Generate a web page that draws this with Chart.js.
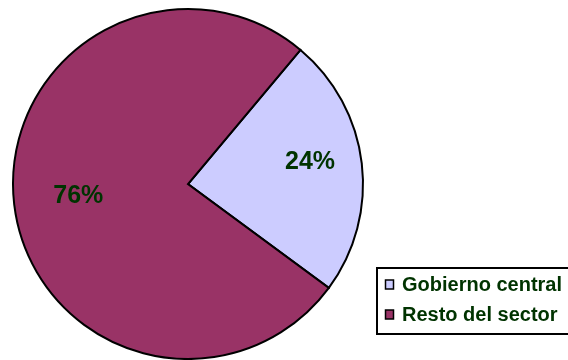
<!DOCTYPE html>
<html lang="es">
<head>
    <meta charset="UTF-8">
    <title>Gobierno central / Resto del sector</title>
    <script src="https://cdn.jsdelivr.net/npm/chart.js"></script>
    <style>
        html, body {
            margin: 0;
            padding: 0;
            background: #ffffff;
        }
        #wrap {
            width: 568px;
            height: 360px;
            position: relative;
        }
    </style>
</head>
<body>
    <div id="wrap">
        <canvas id="pie" width="568" height="360"></canvas>
    </div>

    <script>
        // Data
        const categories = ['Gobierno central', 'Resto del sector'];
        const shares = [24, 76];
        const sliceColors = ['#CCCCFF', '#993366'];

        const textColor = '#003300';
        const fontFamily = 'Arial, "Liberation Sans", sans-serif';

        // Percent labels inside each slice
        const sliceLabels = {
            id: 'sliceLabels',
            afterDatasetsDraw(chart) {
                const ctx = chart.ctx;
                const meta = chart.getDatasetMeta(0);
                const radiusFactor = [0.71, 0.63];
                const angleShift = [-0.07, 0.02];
                ctx.save();
                ctx.font = 'bold 25px ' + fontFamily;
                ctx.fillStyle = textColor;
                ctx.textAlign = 'center';
                ctx.textBaseline = 'middle';
                meta.data.forEach((arc, i) => {
                    const p = arc.getProps(['x', 'y', 'startAngle', 'endAngle', 'outerRadius'], true);
                    const mid = (p.startAngle + p.endAngle) / 2 + angleShift[i];
                    const r = p.outerRadius * radiusFactor[i];
                    const x = p.x + Math.cos(mid) * r;
                    const y = p.y + Math.sin(mid) * r;
                    ctx.fillText(shares[i] + '%', x, y + 1);
                });
                ctx.restore();
            }
        };

        // Boxed legend at the lower right
        const boxLegend = {
            id: 'boxLegend',
            afterDraw(chart) {
                const ctx = chart.ctx;
                const left = 377, top = 268, bottom = 334;
                ctx.save();
                ctx.fillStyle = '#ffffff';
                ctx.fillRect(left, top, 600 - left, bottom - top);
                ctx.strokeStyle = '#000000';
                ctx.lineWidth = 2;
                ctx.strokeRect(left, top, 600 - left, bottom - top);

                ctx.font = 'bold 20px ' + fontFamily;
                ctx.textBaseline = 'middle';
                ctx.textAlign = 'left';
                chart.data.labels.forEach((label, i) => {
                    const cy = 284.5 + i * 30;
                    ctx.fillStyle = sliceColors[i];
                    ctx.fillRect(385.5, cy - 4.5, 8, 9);
                    ctx.strokeStyle = '#000000';
                    ctx.lineWidth = 1.5;
                    ctx.strokeRect(385.5, cy - 4.5, 8, 9);
                    ctx.fillStyle = textColor;
                    ctx.fillText(label, 402, cy + 1);
                });
                ctx.restore();
            }
        };

        new Chart(document.getElementById('pie'), {
            type: 'pie',
            data: {
                labels: categories,
                datasets: [{
                    data: shares,
                    backgroundColor: sliceColors,
                    borderColor: '#000000',
                    borderWidth: 2,
                    borderJoinStyle: 'miter'
                }]
            },
            options: {
                responsive: false,
                animation: false,
                rotation: 40,
                layout: {
                    padding: { left: 12, top: 8, right: 204, bottom: 0 }
                },
                plugins: {
                    legend: { display: false },
                    tooltip: { enabled: false }
                }
            },
            plugins: [sliceLabels, boxLegend]
        });
    </script>
</body>
</html>
